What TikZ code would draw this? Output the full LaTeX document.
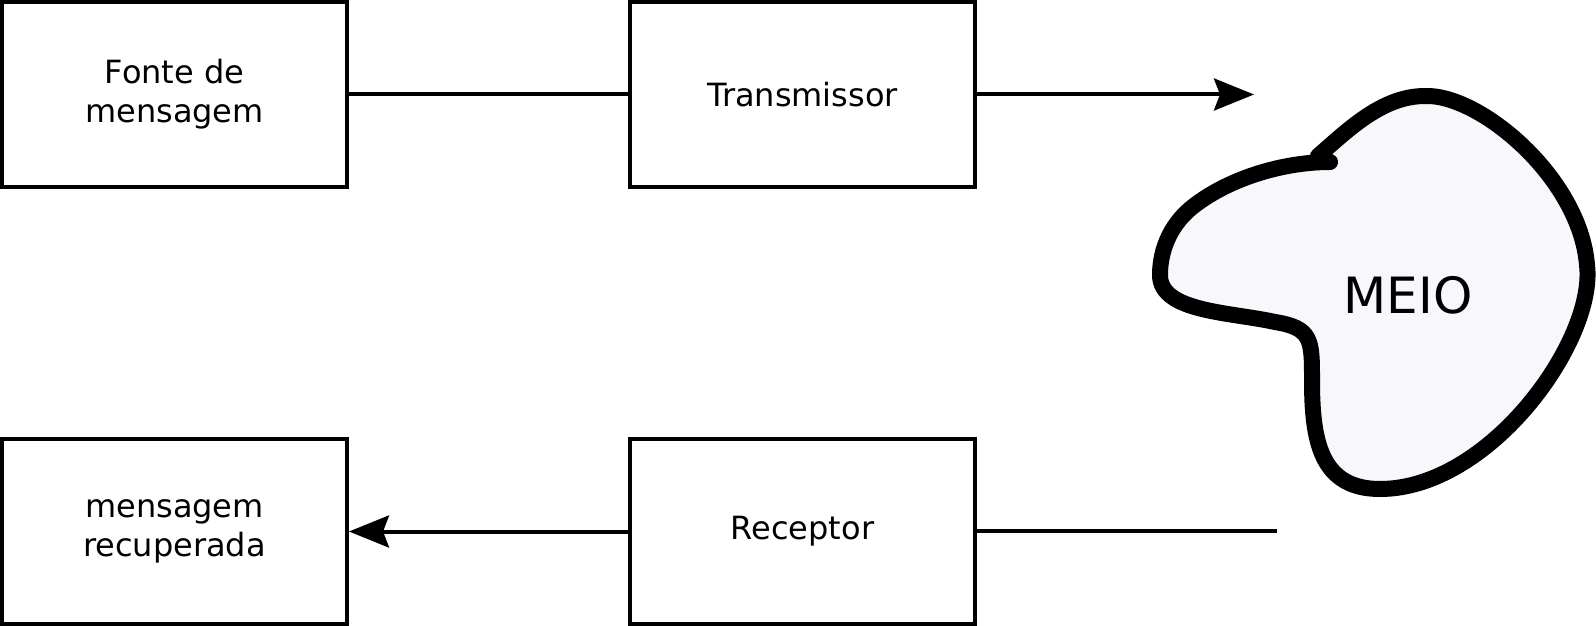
\documentclass[tikz,border=0pt]{standalone}
\usepackage{fontspec}
\setmainfont{DejaVu Sans}
\usetikzlibrary{arrows.meta}
\definecolor{meiofill}{RGB}{248,248,252}
\begin{document}
\begin{tikzpicture}[x=0.5pt,y=-0.5pt,
  bloco/.style={draw,line width=2pt,minimum width=172.5pt,minimum height=92.5pt,
    align=center,font=\fontsize{16}{19.5}\selectfont,inner sep=0pt},
  liga/.style={line width=2pt},
  seta/.style={line width=2pt,-{Stealth[length=20pt,width=16pt,inset=3pt]}}]
\useasboundingbox (0,0) rectangle (1596,626);
%
% blocos
\node[bloco] (fonte) at (174.5,94.5) {Fonte de\\mensagem};
\node[bloco] (tx) at (802.5,94.5) {Transmissor};
\node[bloco] (recup) at (174.5,531.5) {mensagem\\recuperada};
\node[bloco] (rx) at (802.5,531.5) {Receptor};
%
% meio
\draw[line width=8pt,line join=round,fill=meiofill]
  (1318,156) .. controls (1348,130) and (1382,96) .. (1425,96)
  .. controls (1480,94) and (1580,178) .. (1587,265)
  .. controls (1596,340) and (1490,489) .. (1380,489)
  .. controls (1320,489) and (1312,440) .. (1312,380)
  .. controls (1312,340) and (1312,328) .. (1275,322)
  .. controls (1230,312) and (1160,312) .. (1160,275)
  .. controls (1160,248) and (1172,222) .. (1195,205)
  .. controls (1232,177) and (1285,162) .. (1330,162) -- cycle;
\node[font=\fontsize{25}{30}\selectfont] (meio) at (1408,295) {MEIO};
%
\coordinate (saida) at (1254,94.5);
\coordinate (entrada) at (1277,530.5);
%
\draw[liga] (fonte) -- (tx);
\draw[seta] (tx) -- (saida);
\draw[liga] (rx.east |- entrada) -- (entrada);
\draw[seta] (rx) -- (recup);
%
\end{tikzpicture}
\end{document}
